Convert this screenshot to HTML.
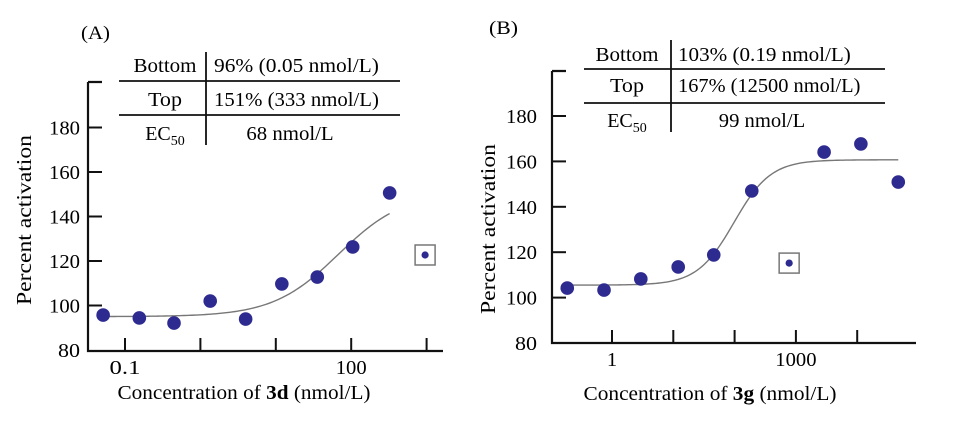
<!DOCTYPE html>
<html><head><meta charset="utf-8"><style>
html,body{margin:0;padding:0;background:#fff;}
svg, svg text, svg tspan{font-family:"Liberation Serif","Times New Roman",serif;}
</style></head><body>
<svg id="fig" width="969" height="418" viewBox="0 0 969 418" xmlns="http://www.w3.org/2000/svg" font-family="Liberation Serif, serif">
<rect width="969" height="418" fill="#fff"/>
<g id="panelA"></g>
<g id="panelB"></g>
</svg>
<script>
// Panel A data (log10 concentration, percent activation)
const logConcA = [-1.29, -0.81, -0.35, 0.13, 0.60, 1.08, 1.55, 2.02, 2.51];
const activationA = [95.7, 94.4, 92.1, 102, 93.9, 109.7, 112.8, 126.3, 150.6];
const outlierA = [2.98, 122.7];
const fitA = [95, 151, 1.83, 1.0]; // bottom, top, logEC50, hill
const xTickLogsA = [-1, 0, 1, 2, 3];
const xTickLabelsA = ["0.1", "", "", "100", ""];
// Panel B data
const logConcB = [-0.73, -0.13, 0.47, 1.08, 1.66, 2.28, 3.46, 4.06, 4.67];
const activationB = [104.2, 103.3, 108.2, 113.5, 118.8, 147, 164.1, 167.7, 150.9];
const outlierB = [2.89, 115.2];
const fitB = [105.5, 160.7, 1.99, 1.45];
const xTickLogsB = [0, 1, 2, 3, 4];
const xTickLabelsB = ["1", "", "", "1000", ""];
const yTicks = [80, 100, 120, 140, 160, 180];
const tableA = [["Bottom", "96% (0.05 nmol/L)"], ["Top", "151% (333 nmol/L)"], ["EC", "68 nmol/L"]];
const tableB = [["Bottom", "103% (0.19 nmol/L)"], ["Top", "167% (12500 nmol/L)"], ["EC", "99 nmol/L"]];

const NS = "http://www.w3.org/2000/svg";
const FF = '"Liberation Serif", serif';
function mk(parent, tag, attrs, text) {
  const e = document.createElementNS(NS, tag);
  for (const k in attrs) e.setAttribute(k, attrs[k]);
  if (tag === "text") e.setAttribute("font-family", FF);
  if (text !== undefined) e.textContent = text;
  parent.appendChild(e);
  return e;
}
// approximate width per char (em) for stretching to reference widths
function fitW(el, w) {
  el.setAttribute("textLength", w);
  el.setAttribute("lengthAdjust", "spacingAndGlyphs");
}

function drawPanel(g, cfg) {
  const sx = v => cfg.x0 + (v - cfg.logOrigin) * cfg.decade;
  const sy = v => cfg.y80 - (v - 80) * cfg.ppu;
  let t = mk(g, "text", {x: cfg.lblX, y: cfg.lblY, "font-size": 19}, cfg.label);
  
  
  fitW(t, 29);
  let ax = mk(g, "path", {d: `M${cfg.axX} ${cfg.axTop} H${cfg.axX + 14} M${cfg.axX} ${cfg.axTop} V${cfg.xAxY} H${cfg.axRight}`, stroke: "#111", "stroke-width": 2.2, fill: "none"});
  
  
  yTicks.forEach(v => {
    const y = sy(v);
    if (v > 80) {
      const tk = mk(g, "line", {x1: cfg.axX, x2: cfg.axX + 14, y1: y, y2: y, stroke: "#111", "stroke-width": 2});
      
      
    }
    const lb = mk(g, "text", {x: cfg.yLblX, y: y + 7, "font-size": 20, "text-anchor": "end"}, String(v));
    
    
    fitW(lb, v === 80 ? 22 : 31);
  });
  cfg.xTicks.forEach((lv, i) => {
    const x = sx(lv);
    const tk = mk(g, "line", {x1: x, x2: x, y1: cfg.xAxY, y2: cfg.xAxY - 13, stroke: "#111", "stroke-width": 2});
    
    
    if (cfg.xLabels[i]) {
      const lb = mk(g, "text", {x: x, y: cfg.xAxY + 23, "font-size": 20, "text-anchor": "middle"}, cfg.xLabels[i]);
      
      
      fitW(lb, cfg.xLabels[i].length * 10.3);
    }
  });
  const yt = mk(g, "text", {x: 0, y: 0, "font-size": 21, "text-anchor": "middle", transform: `translate(${cfg.yTitleX},${cfg.yTitleY}) rotate(-90)`}, "Percent activation");
  
  
  fitW(yt, 170);
  const xt = mk(g, "text", {x: cfg.xTitleX, y: cfg.xTitleY, "font-size": 20, "text-anchor": "middle"});
  
  
  mk(xt, "tspan", {}, "Concentration of ");
  mk(xt, "tspan", {"font-weight": "bold"}, cfg.cmpd);
  mk(xt, "tspan", {}, " (nmol/L)");
  fitW(xt, 253);
  const f = cfg.fit;
  let d = "";
  const n = 120, a = cfg.logs[0], b = cfg.logs[cfg.logs.length - 1];
  for (let i = 0; i <= n; i++) {
    const lx = a + (b - a) * i / n;
    const v = f[0] + (f[1] - f[0]) / (1 + Math.pow(10, (f[2] - lx) * f[3]));
    d += (i ? "L" : "M") + sx(lx).toFixed(2) + " " + sy(v).toFixed(2);
  }
  const c = mk(g, "path", {d: d, stroke: "#777", "stroke-width": 1.4, fill: "none"});
  
  
  cfg.logs.forEach((lv, i) => {
    const p = mk(g, "circle", {cx: sx(lv), cy: sy(cfg.vals[i]), r: 6.8, fill: "#2e2b90"});
    
    
  });
  const ox = sx(cfg.out[0]), oy = sy(cfg.out[1]);
  const ob = mk(g, "rect", {x: ox - 10, y: oy - 10, width: 20, height: 20, fill: "none", stroke: "#777", "stroke-width": 1.5});
  
  
  const op = mk(g, "circle", {cx: ox, cy: oy, r: 3.6, fill: "#2e2b90"});
  
  
  const T = cfg.table;
  const tl = mk(g, "path", {d: `M${T.x1} ${T.h1} H${T.x2} M${T.x1} ${T.h2} H${T.x2} M${T.vx} ${T.vTop} V${T.vBot}`, stroke: "#111", "stroke-width": 1.8, fill: "none"});
  
  
  cfg.rows.forEach((r, i) => {
    const y = T.rows[i] + 6;
    const k = mk(g, "text", {x: T.lc, y: y, "font-size": 20, "text-anchor": "middle"}, r[0]);
    
    
    if (r[0] === "EC") { mk(k, "tspan", {"font-size": 14, dy: 5}, "50"); }
    else fitW(k, r[0] === "Bottom" ? 63 : 34);
    const anchor = i === 2 ? "middle" : "start";
    const vx = i === 2 ? T.rc : T.rx;
    const v = mk(g, "text", {x: vx, y: y, "font-size": 20, "text-anchor": anchor}, r[1]);
    
    
    fitW(v, r[1].length * T.cw);
  });
  if (cfg.rightLine) {
    const rl = mk(g, "line", {x1: cfg.rightLine, x2: cfg.rightLine, y1: 67, y2: 346, stroke: "#999", "stroke-width": 1});
    
    
  }
}

drawPanel(document.getElementById("panelA"), {
  label: "(A)", lblX: 81, lblY: 39,
  x0: 125, logOrigin: -1, decade: 75.4, y80: 350, ppu: 2.225,
  axX: 88, axTop: 82, xAxY: 351, axRight: 443, yLblX: 80,
  xTicks: xTickLogsA, xLabels: xTickLabelsA,
  yTitleX: 31, yTitleY: 220, xTitleX: 244, xTitleY: 399, cmpd: "3d",
  fit: fitA, logs: logConcA, vals: activationA, out: outlierA, rows: tableA,
  table: {x1: 119, x2: 400, h1: 81, h2: 115, vx: 206, vTop: 52, vBot: 145, rows: [66, 100, 134], lc: 165, rx: 214, rc: 290, cw: 9.7}
});
drawPanel(document.getElementById("panelB"), {
  label: "(B)", lblX: 489, lblY: 34,
  x0: 612, logOrigin: 0, decade: 61.3, y80: 343, ppu: 2.27,
  axX: 552, axTop: 71, xAxY: 343, axRight: 916, yLblX: 537,
  xTicks: xTickLogsB, xLabels: xTickLabelsB,
  yTitleX: 495, yTitleY: 229, xTitleX: 710, xTitleY: 400, cmpd: "3g",
  fit: fitB, logs: logConcB, vals: activationB, out: outlierB, rows: tableB,
  table: {x1: 584, x2: 885, h1: 69, h2: 103, vx: 671, vTop: 40, vBot: 132, rows: [55, 86, 121], lc: 627, rx: 678, rc: 762, cw: 9.6}
});
</script>
</body></html>
